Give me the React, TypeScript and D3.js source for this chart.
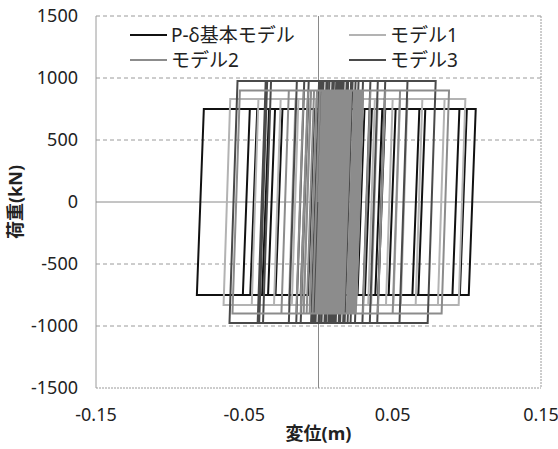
import React from "react";
import * as d3 from "d3";

const W = 558;
const H = 449;

const seriesNames = ["P-δ基本モデル", "モデル1", "モデル2", "モデル3"];
const seriesColors = ["#111111", "#b3b3b3", "#8c8c8c", "#4a4a4a"];
// yield force (kN) for each model, read from the plateaus
const yieldForces = [750, 830, 900, 975];
// horizontal width (m) of a full elastic swing from -Fy to +Fy, read from slant of verticals
const elasticWidths = [0.0047, 0.0045, 0.005, 0.0054];

// turning displacements (m): alternating max (on +Fy plateau) then min (on -Fy plateau)
const turnsPDelta = [
  0.010, -0.002, 0.022, 0.006, 0.031, -0.034, 0.095, -0.082, 0.106, -0.046,
  0.100, -0.038, 0.072, -0.051, 0.043, -0.007, 0.068, 0.010, 0.052, -0.029,
  0.031, -0.012, 0.045, 0.005, 0.036, 0.012, 0.028, 0.008, 0.018, 0.002,
  0.012,
];
const turnsModel1 = [
  0.012, -0.004, 0.018, 0.002, 0.026, -0.010, 0.040, -0.064, 0.070, -0.020,
  0.099, -0.030, 0.085, 0.000, 0.060, -0.045, 0.030, -0.012, 0.050, 0.015,
  0.038, 0.004, 0.022, 0.008, 0.030, 0.012, 0.020, -0.006, 0.010, 0.003,
  0.055, -0.018, 0.025, 0.006,
];
const turnsModel2 = [
  0.008, -0.006, 0.015, 0.000, 0.020, -0.010, 0.035, -0.025, 0.055, -0.058,
  0.030, -0.015, 0.088, 0.005, 0.045, -0.008, 0.025, -0.002, 0.018, 0.004,
  0.028, 0.006, 0.012, -0.004, 0.016, 0.002, 0.024, 0.009, 0.019, -0.012,
  0.014, 0.001, 0.028, 0.004, 0.022, -0.001, 0.030, 0.010, 0.026, 0.003,
  0.018, 0.008, 0.027, 0.002, 0.021, 0.007, 0.029, 0.013, 0.024, 0.011,
  0.017,
];
const turnsModel3 = [
  0.006, -0.005, 0.012, -0.002, 0.020, -0.012, 0.030, -0.060, 0.045, -0.020,
  0.079, -0.004, 0.060, 0.010, 0.040, -0.015, 0.025, 0.002, 0.035, 0.008,
  0.020, 0.000, 0.015, 0.004, 0.022, 0.009, 0.017, -0.041, -0.032, -0.040,
  0.010, -0.003, 0.013, 0.005, 0.027, 0.011, 0.023, 0.000, 0.019,
];
const seriesTurns = [turnsPDelta, turnsModel1, turnsModel2, turnsModel3];
const drawOrder = [0, 1, 3, 2];

const yTicks = [-1500, -1000, -500, 0, 500, 1000, 1500];
const xTickLabels = [-0.15, -0.05, 0.05, 0.15];

const margin = { left: 96, right: 17, top: 16, bottom: 61 };

function buildPath(turns: number[], fy: number, w: number): [number, number][] {
  const pts: [number, number][] = [[0, 0], [w / 2, fy]];
  for (let i = 0; i < turns.length; i++) {
    const up = i % 2 === 0;
    const x = turns[i];
    if (up) {
      pts.push([x, fy]);
      pts.push([x - w, -fy]);
    } else {
      pts.push([x, -fy]);
      pts.push([x + w, fy]);
    }
  }
  return pts;
}

export default function App() {
  const x = d3.scaleLinear().domain([-0.15, 0.15]).range([margin.left, W - margin.right]);
  const y = d3.scaleLinear().domain([-1500, 1500]).range([H - margin.bottom, margin.top]);
  const line = d3
    .line<[number, number]>()
    .x((d) => x(d[0]))
    .y((d) => y(d[1]));
  const font = "'Noto Sans', 'Noto Sans CJK JP', sans-serif";
  const left = margin.left;
  const right = W - margin.right;
  const top = margin.top;
  const bottom = H - margin.bottom;

  const legendItems = [
    { i: 0, lx: 130, ly: 35 },
    { i: 1, lx: 349, ly: 35 },
    { i: 2, lx: 130, ly: 60 },
    { i: 3, lx: 349, ly: 60 },
  ];

  return (
    <svg
      width={W}
      height={H}
      style={{ position: "absolute", left: 0, top: 0, background: "#fff" }}
      fontFamily={font}
    >
      <rect x={0} y={0} width={W} height={H} fill="#fff" />
      {/* gridlines */}
      {yTicks
        .filter((t) => t !== 0 && t !== -1500)
        .map((t) => (
          <line
            key={t}
            x1={left}
            x2={right}
            y1={y(t)}
            y2={y(t)}
            stroke="#9a9a9a"
            strokeWidth={1}
            strokeDasharray="4,3"
          />
        ))}
      {/* plot border */}
      <line x1={left} x2={left} y1={top} y2={bottom} stroke="#9a9a9a" strokeWidth={1} />
      <line x1={right} x2={right} y1={top} y2={bottom} stroke="#9a9a9a" strokeWidth={1} strokeDasharray="2,1" />
      <line x1={left} x2={right} y1={bottom} y2={bottom} stroke="#9a9a9a" strokeWidth={1} strokeDasharray="2,1" />
      {/* axes at zero */}
      <line x1={left} x2={right} y1={y(0)} y2={y(0)} stroke="#8a8a8a" strokeWidth={1} />
      <line x1={x(0)} x2={x(0)} y1={top} y2={bottom} stroke="#8a8a8a" strokeWidth={1} />

      {/* series */}
      {drawOrder.map((i) => (
        <path
          key={i}
          d={line(buildPath(seriesTurns[i], yieldForces[i], elasticWidths[i])) || ""}
          fill="none"
          stroke={seriesColors[i]}
          strokeWidth={2}
          strokeLinejoin="miter"
        />
      ))}

      {/* y tick labels */}
      {yTicks.map((t) => (
        <text
          key={t}
          x={78}
          y={y(t)}
          dy="0.35em"
          textAnchor="end"
          fontSize={18}
          fill="#222"
        >
          {t}
        </text>
      ))}
      {/* x tick labels */}
      {xTickLabels.map((t) => (
        <text key={t} x={x(t)} y={421} textAnchor="middle" fontSize={18} fill="#222">
          {t.toFixed(2)}
        </text>
      ))}

      {/* axis titles */}
      <text
        x={x(0)}
        y={440}
        textAnchor="middle"
        fontSize={18}
        fontWeight="bold"
        fill="#222"
      >
        変位(m)
      </text>
      <text
        transform={`translate(22, ${y(0)}) rotate(-90)`}
        textAnchor="middle"
        fontSize={18}
        fontWeight="bold"
        fill="#222"
      >
        荷重(kN)
      </text>

      {/* legend */}
      {legendItems.map(({ i, lx, ly }) => (
        <g key={i}>
          <line x1={lx} x2={lx + 37} y1={ly} y2={ly} stroke={seriesColors[i]} strokeWidth={2} />
          <text x={lx + 41} y={ly} dy="0.36em" fontSize={19} fill="#222">
            {seriesNames[i]}
          </text>
        </g>
      ))}
    </svg>
  );
}
